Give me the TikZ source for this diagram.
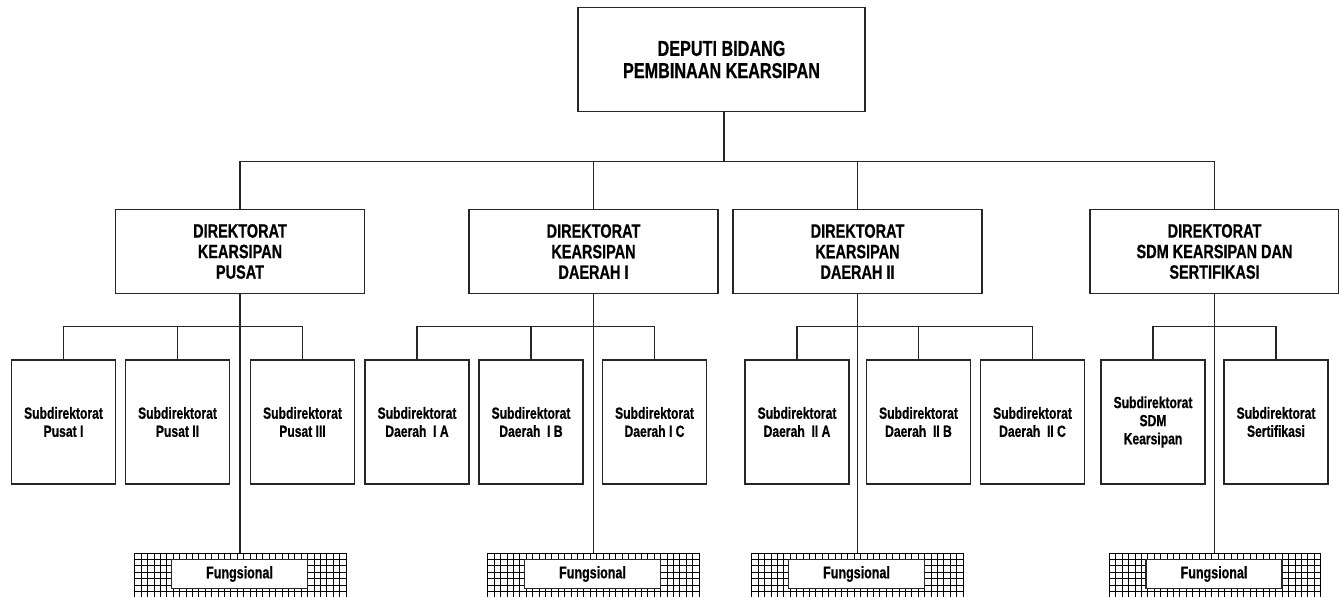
\documentclass[tikz,border=0pt]{standalone}
\usepackage{fontspec}
\setmainfont[FakeStretch=0.75, BoldFeatures={FakeBold=0.6}]{Liberation Sans}

\begin{document}
\begin{tikzpicture}[x=0.02cm, y=-0.02cm,
    conn/.style={draw=black!85, line width=0.7pt},
    topbox/.style={draw=black!85, line width=0.7pt, align=center, minimum width=5.74cm, minimum height=2.08cm, font=\fontsize{12.3}{12.6}\selectfont\bfseries},
    dirbox/.style={draw=black!85, line width=0.7pt, align=center, minimum width=4.98cm, minimum height=1.68cm, font=\fontsize{11}{11.7}\selectfont\bfseries},
    subbox/.style={draw=black!85, line width=0.7pt, align=center, minimum width=2.08cm, minimum height=2.48cm, font=\fontsize{9.2}{10.3}\selectfont\bfseries},
    funbox/.style={draw=black!85, line width=0.7pt, fill=white, minimum width=2.72cm, minimum height=0.58cm, font=\fontsize{9.5}{10}\selectfont\bfseries},
    gridline/.style={draw=black, line width=0.55pt}]
    \useasboundingbox (0,0) rectangle (1339,596);
    \clip (0,0) rectangle (1339,596);

    % Top of the chart
    \node[topbox] (dep) at (721.5,59.5) {DEPUTI BIDANG\\PEMBINAAN KEARSIPAN};

    % Direktorat
    \node[dirbox] (dir1) at (240,251.5) {DIREKTORAT\\KEARSIPAN\\PUSAT};
    \node[dirbox] (dir2) at (593.5,251.5) {DIREKTORAT\\KEARSIPAN\\DAERAH I};
    \node[dirbox] (dir3) at (857.5,251.5) {DIREKTORAT\\KEARSIPAN\\DAERAH II};
    \node[dirbox] (dir4) at (1214.5,251.5) {DIREKTORAT\\SDM KEARSIPAN DAN\\SERTIFIKASI};

    % Subdirektorat
    \node[subbox] (s11) at (63.5,422) {Subdirektorat\\Pusat I};
    \node[subbox] (s12) at (177.5,422) {Subdirektorat\\Pusat II};
    \node[subbox] (s13) at (302.5,422) {Subdirektorat\\Pusat III};
    \node[subbox] (s21) at (417,422) {Subdirektorat\\Daerah \ I A};
    \node[subbox] (s22) at (531,422) {Subdirektorat\\Daerah \ I B};
    \node[subbox] (s23) at (654.5,422) {Subdirektorat\\Daerah I C};
    \node[subbox] (s31) at (797,422) {Subdirektorat\\Daerah \ II A};
    \node[subbox] (s32) at (918.5,422) {Subdirektorat\\Daerah \ II B};
    \node[subbox] (s33) at (1032.5,422) {Subdirektorat\\Daerah \ II C};
    \node[subbox] (s41) at (1153,422) {Subdirektorat\\SDM\\Kearsipan};
    \node[subbox] (s42) at (1276,422) {Subdirektorat\\Sertifikasi};

    % Fungsional (grid background)
    \foreach \cx/\n in {240.5/1, 593.5/2, 857.5/3, 1215/4} {
        \foreach \i in {0,...,33}
            \draw[gridline] (\cx-105.6+\i*6.4,553) -- (\cx-105.6+\i*6.4,600);
        \foreach \j in {0,...,7}
            \draw[gridline] (\cx-105.6,553+\j*6.4) -- (\cx+105.6,553+\j*6.4);
        \coordinate (fg\n) at (\cx,553);
        \node[funbox] (fun\n) at (\cx-1,574) {Fungsional};
    }

    % Connectors
    \coordinate (bus) at (724,161.7);
    \draw[conn] (dep.south -| bus) -- (bus);
    \draw[conn] (dir1.north) -- ++(0,-47.5) -| (dir4.north);
    \draw[conn] (dir2.north) -- (dir2.north |- bus);
    \draw[conn] (dir3.north) -- (dir3.north |- bus);

    \draw[conn] (s11.north) -- ++(0,-33) -| (s13.north);
    \draw[conn] (s12.north) -- ++(0,-33);
    \draw[conn] (s21.north) -- ++(0,-33) -| (s23.north);
    \draw[conn] (s22.north) -- ++(0,-33);
    \draw[conn] (s31.north) -- ++(0,-33) -| (s33.north);
    \draw[conn] (s32.north) -- ++(0,-33);
    \draw[conn] (s41.north) -- ++(0,-33) -| (s42.north);

    \draw[conn] (dir1.south) -- (dir1.south |- fg1);
    \draw[conn] (dir2.south) -- (dir2.south |- fg2);
    \draw[conn] (dir3.south) -- (dir3.south |- fg3);
    \draw[conn] (dir4.south) -- (dir4.south |- fg4);
\end{tikzpicture}
\end{document}
